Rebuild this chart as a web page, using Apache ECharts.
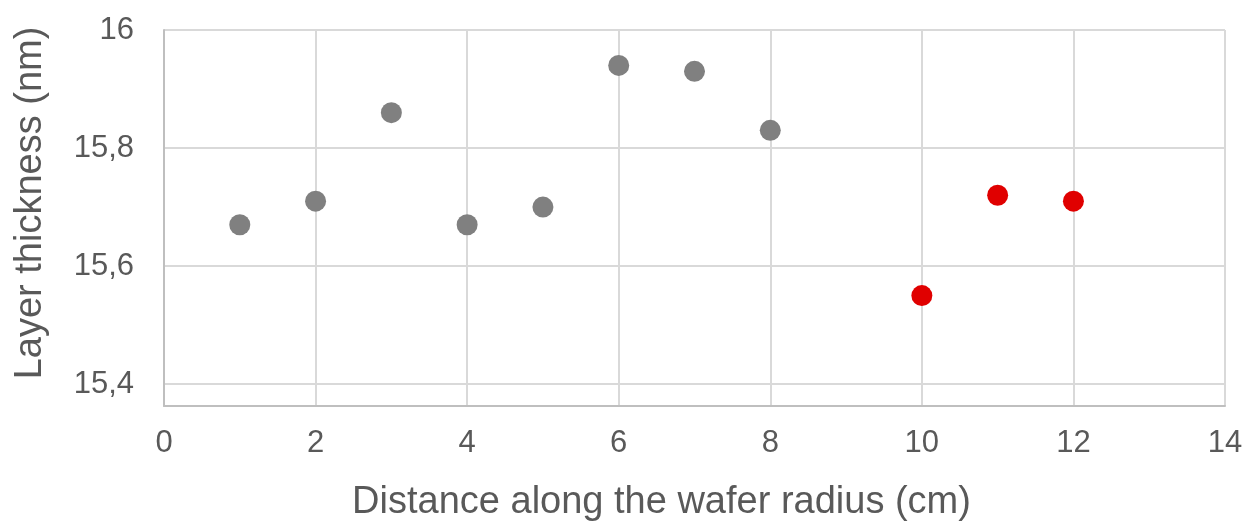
<!DOCTYPE html>
<html>
<head>
<meta charset="utf-8">
<script src="https://cdn.jsdelivr.net/npm/echarts@6/dist/echarts.min.js"></script>
<style>
  html, body { margin: 0; padding: 0; background: #fff; }
  #chart { width: 1253px; height: 523px; }
</style>
</head>
<body>
<div id="chart"></div>
<script>
// measured points (cm, nm)
const greyX = [1, 2, 3, 4, 5, 6, 7, 8];
const greyY = [15.67, 15.71, 15.86, 15.67, 15.70, 15.94, 15.93, 15.83];
const redX = [10, 11, 12];
const redY = [15.55, 15.72, 15.71];
const yTicks = [15.4, 15.6, 15.8, 16];

const font = 'Liberation Sans, Arial, sans-serif';
const zip = (xs, ys) => xs.map((x, i) => [x, ys[i]]);

const chart = echarts.init(document.getElementById('chart'));
chart.setOption({
  animation: false,
  grid: { left: 164, right: 28, top: 30, bottom: 117, outerBoundsMode: 'none' },
  xAxis: {
    type: 'value',
    min: 0,
    max: 14,
    interval: 2,
    name: 'Distance along the wafer radius (cm)',
    nameLocation: 'middle',
    nameGap: 78,
    nameTextStyle: { fontFamily: font, fontSize: 38, color: '#595959', padding: [0, 66, 0, 0] },
    axisLine: { lineStyle: { color: '#bfbfbf', width: 2 } },
    axisTick: { show: false },
    axisLabel: { fontFamily: font, fontSize: 31, color: '#595959', margin: 22 },
    splitLine: { show: true, lineStyle: { color: '#d9d9d9', width: 2 } }
  },
  yAxis: {
    type: 'value',
    min: 15.363,
    max: 16,
    name: 'Layer thickness (nm)',
    nameLocation: 'middle',
    nameGap: 114,
    nameTextStyle: { fontFamily: font, fontSize: 38, color: '#595959', padding: [0, 0, 0, 30] },
    axisLine: { show: true, lineStyle: { color: '#bfbfbf', width: 2 } },
    axisTick: { show: false, customValues: yTicks },
    axisLabel: {
      customValues: yTicks,
      fontFamily: font, fontSize: 31, color: '#595959', margin: 30,
      formatter: (v) => String(Math.round(v * 10) / 10).replace('.', ',')
    },
    splitLine: { show: true, lineStyle: { color: '#d9d9d9', width: 2 } }
  },
  series: [
    {
      type: 'scatter',
      data: zip(greyX, greyY),
      symbolSize: 21,
      itemStyle: { color: '#808080', opacity: 1 }
    },
    {
      type: 'scatter',
      data: zip(redX, redY),
      symbolSize: 21,
      itemStyle: { color: '#e00000', opacity: 1 }
    }
  ]
});
</script>
</body>
</html>
